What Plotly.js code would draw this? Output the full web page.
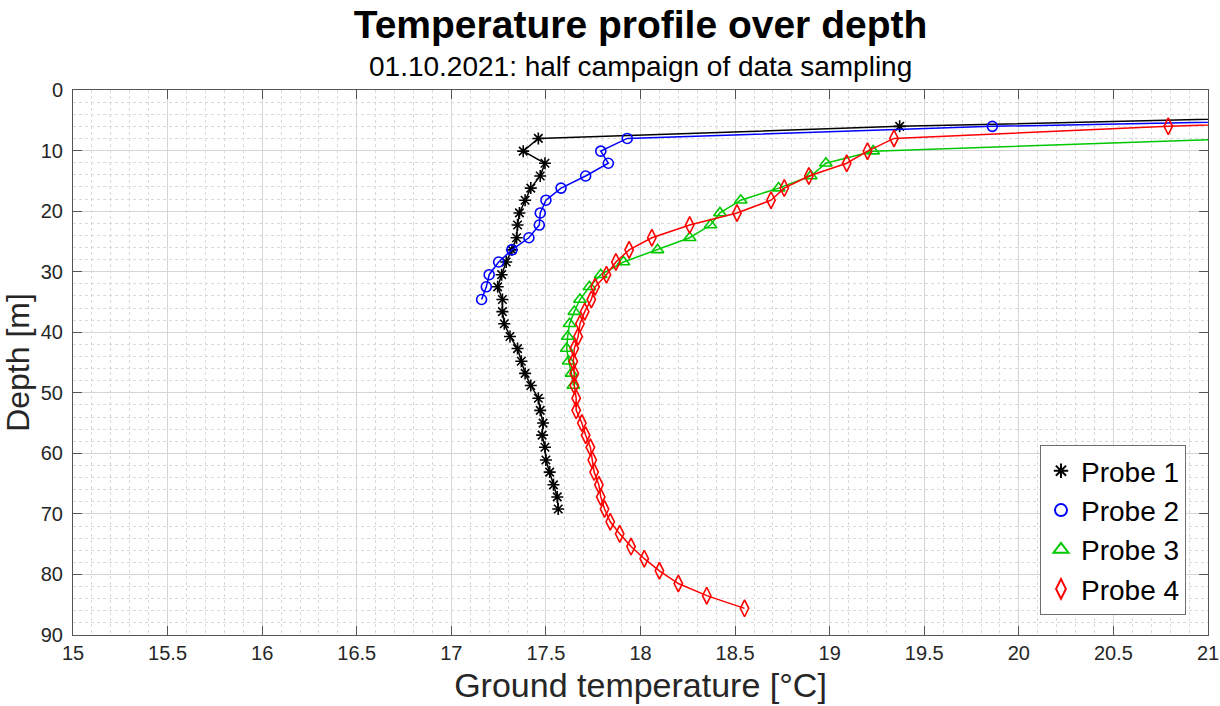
<!DOCTYPE html>
<html>
<head>
<meta charset="utf-8">
<script src="https://cdn.plot.ly/plotly-3.0.1.min.js"></script>
<style>html,body{margin:0;padding:0;background:#fff;}#chart{width:1220px;height:706px;}</style>
</head>
<body>
<div id="chart"></div>
<script>
// Depth [m] of each sample point, per probe
const depth1 = [4.0, 6.0, 8.0, 10.1, 12.1, 14.2, 16.2, 18.2, 20.3, 22.3, 24.4, 26.4, 28.4, 30.5, 32.5, 34.6, 36.6, 38.6, 40.7, 42.7, 44.8, 46.8, 48.8, 50.9, 52.9, 55.0, 57.0, 59.0, 61.1, 63.1, 65.2, 67.2, 69.2];
const temp1  = [22.2, 19.37, 17.46, 17.38, 17.495, 17.47, 17.42, 17.39, 17.36, 17.35, 17.345, 17.32, 17.29, 17.266, 17.245, 17.27, 17.27, 17.28, 17.31, 17.35, 17.37, 17.39, 17.42, 17.46, 17.47, 17.485, 17.48, 17.495, 17.50, 17.52, 17.54, 17.56, 17.565];

const depth2 = [4.0, 6.0, 8.0, 10.1, 12.1, 14.2, 16.2, 18.2, 20.3, 22.3, 24.4, 26.4, 28.4, 30.5, 32.5, 34.6];
const temp2  = [23.3, 19.86, 17.93, 17.79, 17.83, 17.71, 17.58, 17.50, 17.47, 17.465, 17.41, 17.32, 17.25, 17.20, 17.185, 17.16];

const depth3 = [8.0, 10.1, 12.1, 14.2, 16.2, 18.2, 20.3, 22.3, 24.4, 26.4, 28.4, 30.5, 32.5, 34.6, 36.6, 38.6, 40.7, 42.7, 44.8, 46.8, 48.8];
const temp3  = [21.2, 19.23, 18.98, 18.90, 18.73, 18.53, 18.42, 18.37, 18.26, 18.09, 17.91, 17.79, 17.73, 17.68, 17.65, 17.625, 17.615, 17.61, 17.62, 17.635, 17.645];

const depth4 = [4.0, 6.0, 8.0, 10.1, 12.1, 14.2, 16.2, 18.2, 20.3, 22.3, 24.4, 26.4, 28.4, 30.5, 32.5, 34.6, 36.6, 38.6, 40.7, 42.7, 44.8, 46.8, 48.8, 50.9, 52.9, 55.0, 57.0, 59.0, 61.1, 63.1, 65.2, 67.2, 69.2, 71.3, 73.3, 75.4, 77.4, 79.4, 81.5, 83.5, 85.6];
const temp4  = [22.7, 20.79, 19.34, 19.20, 19.09, 18.89, 18.76, 18.69, 18.51, 18.26, 18.06, 17.94, 17.87, 17.82, 17.76, 17.74, 17.705, 17.68, 17.67, 17.65, 17.645, 17.65, 17.65, 17.66, 17.66, 17.69, 17.71, 17.735, 17.745, 17.755, 17.78, 17.79, 17.81, 17.84, 17.89, 17.95, 18.02, 18.10, 18.20, 18.35, 18.55];

const probeNames = ['Probe 1', 'Probe 2', 'Probe 3', 'Probe 4'];
const xTickVals = [15, 15.5, 16, 16.5, 17, 17.5, 18, 18.5, 19, 19.5, 20, 20.5, 21];
const yTickVals = [0, 10, 20, 30, 40, 50, 60, 70, 80, 90];

const series = [
  {x: temp1, y: depth1, color: '#000000', symbol: 'asterisk-open', size: 10},
  {x: temp2, y: depth2, color: '#0000ff', symbol: 'circle-open', size: 10},
  {x: temp3, y: depth3, color: '#00c800', symbol: 'triangle-up-open', size: 11},
  {x: temp4, y: depth4, color: '#ff0000', symbol: 'diamond-tall-open', size: 12}
];

const font = 'Liberation Sans, Arial, Helvetica, sans-serif';
const traces = [];
series.forEach((s, i) => {
  traces.push({
    x: s.x, y: s.y, type: 'scatter', mode: 'lines+markers',
    name: probeNames[i], showlegend: false,
    line: {color: s.color, width: 1.5},
    marker: {symbol: s.symbol, size: s.size, color: s.color, line: {color: s.color, width: 1.6}}
  });
});
series.forEach((s, i) => {
  traces.push({
    x: [null], y: [null], type: 'scatter', mode: 'markers',
    name: probeNames[i], showlegend: true,
    marker: {symbol: s.symbol, size: s.size + 2, color: s.color, line: {color: s.color, width: 2}}
  });
});

const axisCommon = {
  showline: true, linecolor: '#555555', linewidth: 1, mirror: 'ticks',
  ticks: 'inside', ticklen: 9, tickcolor: '#555555', tickwidth: 1,
  showgrid: true, gridcolor: '#d6d6d6', gridwidth: 1,
  zeroline: false, automargin: false,
  tickfont: {family: font, size: 20, color: '#262626'}
};

const layout = {
  width: 1220, height: 706,
  paper_bgcolor: '#ffffff', plot_bgcolor: '#ffffff',
  margin: {l: 73, r: 12, t: 90, b: 71, pad: 0},
  font: {family: font, color: '#262626'},
  title: {
    text: '<b>Temperature profile over depth</b>',
    font: {family: font, size: 39, color: '#000000'},
    x: 0.5, xanchor: 'center', xref: 'paper',
    y: 1 - 24 / 706, yanchor: 'middle', yref: 'container'
  },
  annotations: [{
    text: '01.10.2021: half campaign of data sampling',
    xref: 'paper', yref: 'paper', x: 0.5, y: 1 + 23 / 545,
    xanchor: 'center', yanchor: 'middle', showarrow: false,
    font: {family: font, size: 28, color: '#000000'}
  }],
  xaxis: Object.assign({}, axisCommon, {
    range: [15, 21], tickvals: xTickVals, ticktext: xTickVals.map(String),
    minor: {dtick: 0.1, tick0: 15, showgrid: true, gridcolor: '#d9d9d9', griddash: 'dot', gridwidth: 1, ticks: ''},
    title: {text: 'Ground temperature [°C]', font: {family: font, size: 34, color: '#262626'}, standoff: 10}
  }),
  yaxis: Object.assign({}, axisCommon, {
    range: [90, 0], tickvals: yTickVals, ticktext: yTickVals.map(String),
    ticklabelstandoff: 5,
    minor: {dtick: 2, tick0: 0, showgrid: true, gridcolor: '#d9d9d9', griddash: 'dot', gridwidth: 1, ticks: ''},
    title: {text: 'Depth [m]', font: {family: font, size: 32, color: '#262626'}, standoff: 2}
  }),
  legend: {
    x: 0.9806, y: 0.0367, xanchor: 'right', yanchor: 'bottom',
    bgcolor: '#ffffff', bordercolor: '#6e6e6e', borderwidth: 1,
    font: {family: font, size: 28, color: '#000000'},
    tracegroupgap: 0, itemwidth: 30
  },
  showlegend: true
};

Plotly.newPlot('chart', traces, layout, {displayModeBar: false, staticPlot: true});
</script>
</body>
</html>
